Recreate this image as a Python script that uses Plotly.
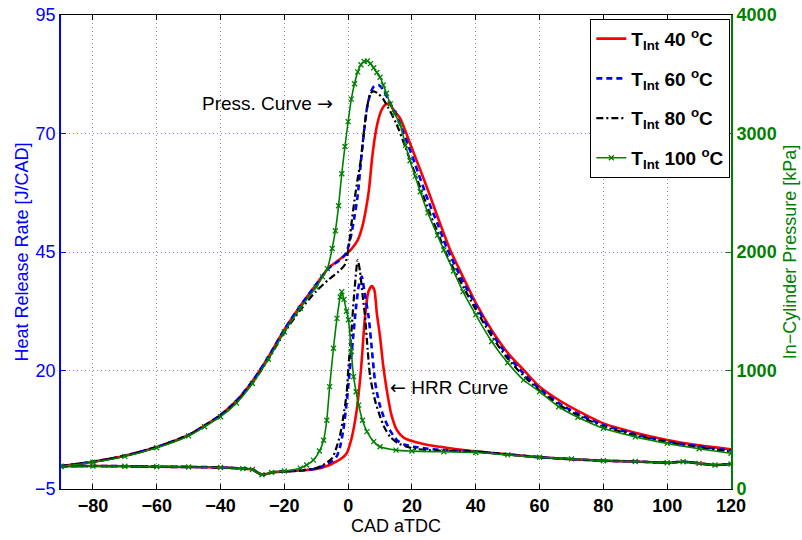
import plotly.graph_objects as go

# ---------------- In-cylinder pressure [kPa] ----------------
p40_cad = [-90,-80,-70,-60,-50,-45,-40,-35,-30,-25,-20,-15,-10,-6,-3,-1,1,3,4.5,5.5,6.5,7.5,8.5,9.5,10.5,11.5,12.2,13.2,14.5,16.3,19,22,25.2,28,32,36,40,45,50,55,60,66,72,80,90,100,110,120]
p40 = [194,230,280,354,456,535,625,745,910,1115,1345,1545,1727,1870,1930,1975,2025,2100,2220,2350,2520,2790,2990,3120,3200,3240,3250,3240,3190,3128,2945,2735,2509,2300,2017,1790,1570,1340,1150,1005,863,751,660,554,475,413,368,335]

p60_cad = [-90,-80,-70,-60,-50,-45,-40,-35,-30,-25,-20,-15,-10,-6,-3,-1,0,1,2,3,4,5,6,7,8,9.5,11,12.5,15,18,21,25,28,31,36,40,45,50,55,60,66,72,80,90,100,110,120]
p60 = [194,230,280,354,456,535,625,745,910,1115,1345,1545,1727,1865,1925,1975,2040,2150,2300,2480,2760,3020,3230,3340,3395,3410,3370,3290,3160,2960,2740,2440,2240,2030,1750,1550,1315,1125,975,845,725,635,540,462,402,360,325]

p80_cad = [-90,-80,-70,-60,-50,-45,-40,-35,-30,-25,-20,-15,-10,-6,-3,-1,0,1,2,3,4,5,6,7,8,9.5,11,12.5,15,18,21,25,28,31,36,40,45,50,55,60,66,72,80,90,100,110,120]
p80 = [194,230,280,354,456,533,620,735,895,1095,1320,1510,1670,1770,1835,1895,2010,2230,2440,2620,2780,3030,3230,3340,3355,3335,3290,3220,3090,2880,2660,2370,2170,1970,1710,1515,1290,1100,955,830,712,622,528,452,395,352,315]

p100_cad = [-90,-80,-70,-60,-50,-45,-40,-35,-30,-25,-20,-15,-10,-8,-6.5,-5,-4,-3,-2,-1,0,1,2,3,4,5,6,7,8,9,10,11,12,13.2,14.5,16.3,18,19.4,21,22.6,25,28,30,33,36,40,45,50,55,60,66,72,80,90,100,110,120]
p100 = [190,226,275,348,448,525,610,725,890,1095,1325,1525,1705,1790,1860,2030,2180,2390,2660,2890,3100,3290,3420,3520,3580,3608,3612,3590,3555,3515,3475,3410,3340,3250,3170,3075,2900,2770,2640,2509,2330,2140,2017,1840,1665,1470,1245,1065,920,821,694,605,512,440,385,340,301]

# ---------------- Heat release rate [J/CAD] ----------------
h40_cad = [-90,-80,-70,-60,-50,-40,-33,-30,-27,-24,-20,-15,-10,-6,-4,-2,-0.5,1,2.7,4,5.3,6.3,7.4,8.2,9,10,11,12.1,13.5,15.3,17.5,20.5,25,28.8,35,40.3,50,60,70,80,90,100,105,110,115,120]
h40 = [-0.2,-0.15,-0.2,-0.3,-0.35,-0.45,-0.7,-0.9,-2.0,-1.5,-1.3,-1.1,-0.8,0.0,0.7,1.5,2.5,5.5,11.7,20,31.4,36.5,37.8,37,32,27.1,21,15.9,10.8,7.4,5.8,5.0,4.3,3.9,3.3,2.9,2.3,1.7,1.3,0.97,0.8,0.55,0.76,0.4,0.06,0.27]

h60_cad = [-90,-80,-70,-60,-50,-40,-33,-30,-27,-24,-20,-15,-10,-8,-5,-3.5,-2.5,-1.5,-0.5,0.5,1.5,2.5,3.5,4.3,5,6.4,7.5,8.5,9.8,11.1,13,15.3,17.5,20.5,25,30,40.3,50,60,70,80,90,100,105,110,115,120]
h60 = [-0.2,-0.15,-0.2,-0.3,-0.35,-0.45,-0.7,-0.9,-2.0,-1.5,-1.3,-1.1,-0.7,-0.2,0.9,2.0,4.0,7.5,13,20,26.5,33.5,38.5,39.8,37,31.4,24,17.3,13,10.3,7.5,5.3,4.4,3.9,3.5,3.2,2.9,2.3,1.7,1.3,0.97,0.8,0.55,0.76,0.4,0.06,0.27]

h80_cad = [-90,-80,-70,-60,-50,-40,-33,-30,-27,-24,-20,-15,-10,-8,-5,-3.6,-2.5,-1.5,-0.5,0.1,1,2,3,3.7,4.5,5.3,6.1,6.9,8.5,10,11.5,13.2,15.5,18.4,22,28,40.3,50,60,70,80,90,100,105,110,115,120]
h80 = [-0.2,-0.15,-0.2,-0.3,-0.35,-0.45,-0.7,-0.9,-2.0,-1.5,-1.3,-1.1,-0.6,0.0,1.5,3.9,6.5,10.3,15,20.8,28,37,43.3,41,36,31.4,24.5,18.7,13.5,10.3,7.8,6.0,4.7,3.9,3.4,3.1,2.9,2.3,1.7,1.3,0.97,0.8,0.55,0.76,0.4,0.06,0.27]

h100_cad = [-90,-80,-70,-60,-50,-40,-33,-30,-27,-24,-20,-15,-13,-10.9,-9,-7.7,-6.7,-5.8,-4.6,-3.5,-2.5,-2.0,-1.3,-0.5,0.1,1.0,1.7,2.5,3.3,4.5,5.9,8,10,15,20,30,40,50,60,70,80,90,100,105,110,115,120]
h100 = [-0.2,-0.15,-0.2,-0.3,-0.35,-0.45,-0.7,-0.9,-2.0,-1.5,-1.2,-0.6,0.06,1.1,3.0,5.3,9.5,16.6,24.7,31,35.5,36.6,35,32.5,30.7,24,18.7,15.5,12.7,9.5,7.1,5.0,3.9,3.2,3.0,2.85,2.7,2.2,1.7,1.35,0.97,0.8,0.55,0.76,0.4,0.06,0.27]

labels = ["<b>T<sub>Int</sub> 40 <sup>o</sup>C</b>", "<b>T<sub>Int</sub> 60 <sup>o</sup>C</b>",
          "<b>T<sub>Int</sub> 80 <sup>o</sup>C</b>", "<b>T<sub>Int</sub> 100 <sup>o</sup>C</b>"]
x_ticks = [-80, -60, -40, -20, 0, 20, 40, 60, 80, 100, 120]
hrr_ticks = [-5, 20, 45, 70, 95]
p_ticks = [0, 1000, 2000, 3000, 4000]

FONT = "Liberation Sans, Arial, Helvetica, sans-serif"
ARROWF = "DejaVu Sans"
BLUE = "#0000ff"
GREEN = "#008000"

styles = [
    dict(color="#ff0000", width=2.6, dash="solid"),
    dict(color=BLUE, width=2.6, dash="6px,4px"),
    dict(color="#000000", width=2.2, dash="7px,3px,2px,3px"),
    dict(color=GREEN, width=1.6, dash="solid"),
]
series = [(p40_cad, p40, h40_cad, h40), (p60_cad, p60, h60_cad, h60),
          (p80_cad, p80, h80_cad, h80), (p100_cad, p100, h100_cad, h100)]

fig = go.Figure()
for i, (pc, pv, hc, hv) in enumerate(series):
    st = styles[i]
    line = dict(color=st["color"], width=st["width"], dash=st["dash"], shape="spline", smoothing=0.7)
    mode = "lines+markers" if i == 3 else "lines"
    marker = dict(symbol="x-thin-open", size=5, color=GREEN, line=dict(color=GREEN, width=1.3)) if i == 3 else None
    fig.add_trace(go.Scatter(x=pc, y=pv, yaxis="y2", mode=mode, line=line, marker=marker,
                             name=labels[i], legendgroup=str(i), showlegend=True))
    fig.add_trace(go.Scatter(x=hc, y=hv, yaxis="y", mode=mode, line=line, marker=marker,
                             name=labels[i], legendgroup=str(i), showlegend=False))

fig.update_layout(
    width=802, height=540,
    margin=dict(l=61, r=71, t=15, b=51),
    paper_bgcolor="white", plot_bgcolor="white",
    font=dict(family=FONT, size=18, color="black"),
    showlegend=True,
    legend=dict(x=0.999, y=0.992, xanchor="right", yanchor="top",
                bgcolor="white", bordercolor="black", borderwidth=1,
                font=dict(family=FONT, size=19, color="black"),
                traceorder="grouped", tracegroupgap=12, itemwidth=30),
    xaxis=dict(range=[-90, 120], tickvals=x_ticks, ticks="inside", ticklen=5,
               tickcolor="black", showline=True, linecolor="black", linewidth=1,
               mirror="ticks", showgrid=True, gridcolor="#909090", griddash="1px,3px",
               gridwidth=1, zeroline=False, automargin=False,
               tickfont=dict(family=FONT, size=18, color="black", weight="bold"),
               title=dict(text="CAD aTDC", font=dict(family=FONT, size=18, color="black"), standoff=0)),
    yaxis=dict(range=[-5, 95], tickvals=hrr_ticks, ticks="inside", ticklen=5,
               tickcolor=BLUE, showline=True, linecolor=BLUE, linewidth=1.5,
               showgrid=True, gridcolor="#8080ff", griddash="1px,3px", gridwidth=1,
               zeroline=False, automargin=False,
               tickfont=dict(family=FONT, size=18, color=BLUE),
               title=dict(text="Heat Release Rate [J/CAD]", font=dict(family=FONT, size=18, color=BLUE), standoff=2)),
    yaxis2=dict(range=[0, 4000], tickvals=p_ticks, ticks="inside", ticklen=5,
                tickcolor=GREEN, showline=True, linecolor=GREEN, linewidth=2,
                overlaying="y", side="right", showgrid=False, zeroline=False, automargin=False,
                tickfont=dict(family=FONT, size=18, color=GREEN, weight="bold"),
                title=dict(text="In\u2212Cylinder Pressure [kPa]", font=dict(family=FONT, size=18, color=GREEN), standoff=8)),
    annotations=[
        dict(x=-4, y=3257, xref="x", yref="y2",
             text="Press. Curve <span style='font-family:" + ARROWF + "'>\u2192</span>", showarrow=False,
             xanchor="right", yanchor="middle", font=dict(family=FONT, size=19, color="black")),
        dict(x=12.5, y=16.5, xref="x", yref="y",
             text="<span style='font-family:" + ARROWF + "'>\u2190</span> HRR Curve", showarrow=False,
             xanchor="left", yanchor="middle", font=dict(family=FONT, size=19, color="black")),
    ],
)

fig.write_html("out.html")
